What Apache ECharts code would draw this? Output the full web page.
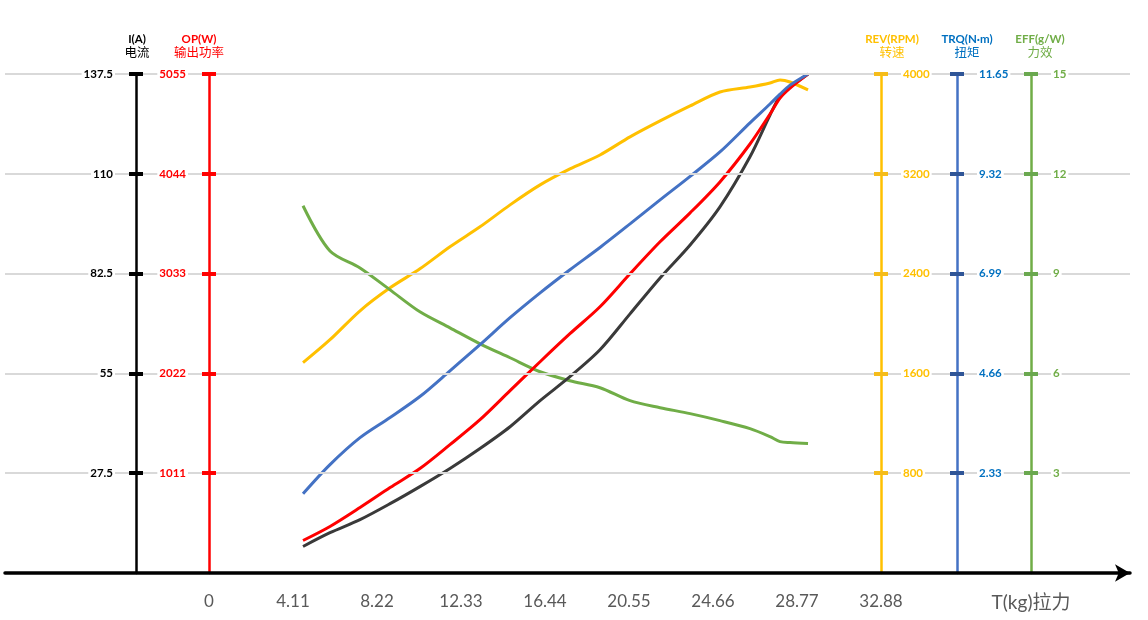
<!DOCTYPE html>
<html>
<head>
<meta charset="utf-8">
<script src="https://cdn.jsdelivr.net/npm/echarts@6/dist/echarts.min.js"></script>
<style>
  html, body { margin: 0; padding: 0; background: #fff; }
  #chart { width: 1148px; height: 620px; }
</style>
</head>
<body>
<div id="chart"></div>
<script>
// pull (kg) where the curves were read
const pull = [4.60, 5.92, 7.39, 8.86, 10.32, 11.79, 13.26, 14.73, 16.20, 17.66, 19.13, 20.60, 22.07, 23.54, 25.00, 26.47, 27.45, 27.94, 28.43, 29.31];

const current = [7.3, 11.1, 14.7, 19.1, 23.8, 28.8, 34.3, 40.3, 47.5, 54.1, 61.5, 71.4, 81.3, 90.4, 100.9, 114.7, 126.2, 131.4, 133.9, 137.5];
const power = [329, 471, 663, 865, 1058, 1300, 1553, 1847, 2140, 2424, 2697, 3031, 3355, 3648, 3962, 4346, 4650, 4812, 4913, 5055];
const rpm = [1686, 1870, 2102, 2286, 2438, 2615, 2775, 2951, 3111, 3239, 3351, 3496, 3624, 3744, 3856, 3896, 3928, 3952, 3936, 3872];
const torque = [1.85, 2.53, 3.16, 3.63, 4.12, 4.72, 5.33, 5.96, 6.54, 7.08, 7.60, 8.15, 8.71, 9.26, 9.83, 10.51, 10.95, 11.18, 11.39, 11.65];
const eff = [11.04, 9.68, 9.17, 8.51, 7.85, 7.37, 6.89, 6.47, 6.05, 5.78, 5.57, 5.18, 4.97, 4.79, 4.58, 4.34, 4.10, 3.95, 3.92, 3.89];

// tick labels
const xTicks = [0, 4.11, 8.22, 12.33, 16.44, 20.55, 24.66, 28.77, 32.88];
const xTitle = 'T(kg)拉力';
const currentTicks = [27.5, 55, 82.5, 110, 137.5];
const powerTicks = [1011, 2022, 3033, 4044, 5055];
const rpmTicks = [800, 1600, 2400, 3200, 4000];
const torqueTicks = [2.33, 4.66, 6.99, 9.32, 11.65];
const effTicks = [3, 6, 9, 12, 15];

// layout
const gridLeft = 5, gridRightEdge = 1130;
const zeroPx = 209, stepPx = 84;
const pxPerKg = stepPx / 4.11;
const xMin = -(zeroPx - gridLeft) / pxPerKg;
const xMax = (gridRightEdge - zeroPx) / pxPerKg;
const xTitleAt = (1031 - zeroPx) / pxPerKg;

const FONT = "Lato, 'Noto Sans CJK SC', sans-serif";

// shift = how far the axis title sits off the axis line (px, + is right)
const scales = [
  { en: 'I(A)', cn: '电流', ticks: currentTicks, line: '#000000', tick: '#000000', text: '#000000', pos: 'left', x: 136, shift: 1 },
  { en: 'OP(W)', cn: '输出功率', ticks: powerTicks, line: '#ff0000', tick: '#ff0000', text: '#ff0000', pos: 'left', x: 209, shift: -10 },
  { en: 'REV(RPM)', cn: '转速', ticks: rpmTicks, line: '#ffc000', tick: '#f5bc1a', text: '#ffc000', pos: 'right', x: 881, shift: 11 },
  { en: 'TRQ(N·m)', cn: '扭矩', ticks: torqueTicks, line: '#4472c4', tick: '#2f5597', text: '#0070c0', pos: 'right', x: 957, shift: 10 },
  { en: 'EFF(g/W)', cn: '力效', ticks: effTicks, line: '#70ad47', tick: '#6aa84f', text: '#70ad47', pos: 'right', x: 1031, shift: 9 },
];

const fmt = (v) => String(+v.toFixed(2));

const yAxes = [];
scales.forEach((s, i) => {
  const offset = s.pos === 'left' ? gridLeft - s.x : s.x - gridRightEdge;
  const max = s.ticks[s.ticks.length - 1];
  const step = s.ticks[0];
  const pad = s.shift >= 0 ? [0, 0, 0, 2 * s.shift] : [0, -2 * s.shift, 0, 0];
  // main axis: line, labels, outer half of the tick
  yAxes.push({
    type: 'value',
    position: s.pos,
    offset: offset,
    min: 0,
    max: max,
    interval: step,
    name: '{a|' + s.en + '}\n{b|' + s.cn + '}',
    nameLocation: 'end',
    nameGap: 14,
    nameTextStyle: {
      align: 'center',
      verticalAlign: 'bottom',
      padding: pad,
      rich: {
        a: { fontFamily: FONT, fontWeight: 'bold', fontSize: 11.5, color: s.text, lineHeight: 13 },
        b: { fontFamily: FONT, fontSize: 12.5, color: s.text, lineHeight: 14 },
      },
    },
    axisLine: { show: true, onZero: false, lineStyle: { color: s.line, width: 2.5 } },
    axisTick: { show: true, length: 7, customValues: s.ticks, lineStyle: { color: s.tick, width: 4 } },
    axisLabel: {
      show: true,
      customValues: s.ticks,
      margin: s.pos === 'left' ? 21 : 20,
      formatter: fmt,
      color: s.text,
      fontFamily: FONT,
      fontWeight: 'bold',
      fontSize: 11.5,
      backgroundColor: '#fff',
      padding: [1, 2],
    },
    splitLine: i === 0 ? { show: true, lineStyle: { color: '#d9d9d9', width: 2 } } : { show: false },
    z: 5,
  });
  // twin axis: inner half of the tick so it sits across the line
  yAxes.push({
    type: 'value',
    position: s.pos,
    offset: offset,
    min: 0,
    max: max,
    interval: step,
    axisLine: { show: false, onZero: false },
    axisTick: { show: true, inside: true, length: 7, customValues: s.ticks, lineStyle: { color: s.tick, width: 4 } },
    axisLabel: { show: false },
    splitLine: { show: false },
    z: 5,
  });
});

const pairs = (ys) => pull.map((x, i) => [x, ys[i]]);

const chart = echarts.init(document.getElementById('chart'));
chart.setOption({
  animation: false,
  backgroundColor: '#fff',
  grid: { left: gridLeft, right: 1148 - gridRightEdge, top: 74, bottom: 47 },
  xAxis: {
    type: 'value',
    min: xMin,
    max: xMax,
    axisLine: {
      show: true,
      onZero: false,
      symbol: ['none', 'arrow'],
      symbolSize: [13, 15],
      lineStyle: { color: '#000', width: 3.5 },
    },
    axisTick: { show: false },
    splitLine: { show: false },
    axisLabel: {
      customValues: xTicks.concat([xTitleAt]),
      margin: 20,
      color: '#595959',
      fontFamily: FONT,
      fontSize: 17,
      formatter: (v) => (Math.abs(v - xTitleAt) < 1e-6 ? '{t|' + xTitle + '}' : fmt(v)),
      rich: { t: { fontFamily: FONT, fontSize: 19, color: '#595959' } },
    },
    z: 6,
  },
  yAxis: yAxes,
  series: [
    { name: '转速', type: 'line', yAxisIndex: 4, data: pairs(rpm), color: '#ffc000' },
    { name: '力效', type: 'line', yAxisIndex: 8, data: pairs(eff), color: '#70ad47' },
    { name: '电流', type: 'line', yAxisIndex: 0, data: pairs(current), color: '#3a3a3a' },
    { name: '输出功率', type: 'line', yAxisIndex: 2, data: pairs(power), color: '#ff0000' },
    { name: '扭矩', type: 'line', yAxisIndex: 6, data: pairs(torque), color: '#4472c4' },
  ].map((s) => Object.assign(s, {
    smooth: 0.3,
    showSymbol: false,
    lineStyle: { width: 3 },
    z: 3,
  })),
});
</script>
</body>
</html>
